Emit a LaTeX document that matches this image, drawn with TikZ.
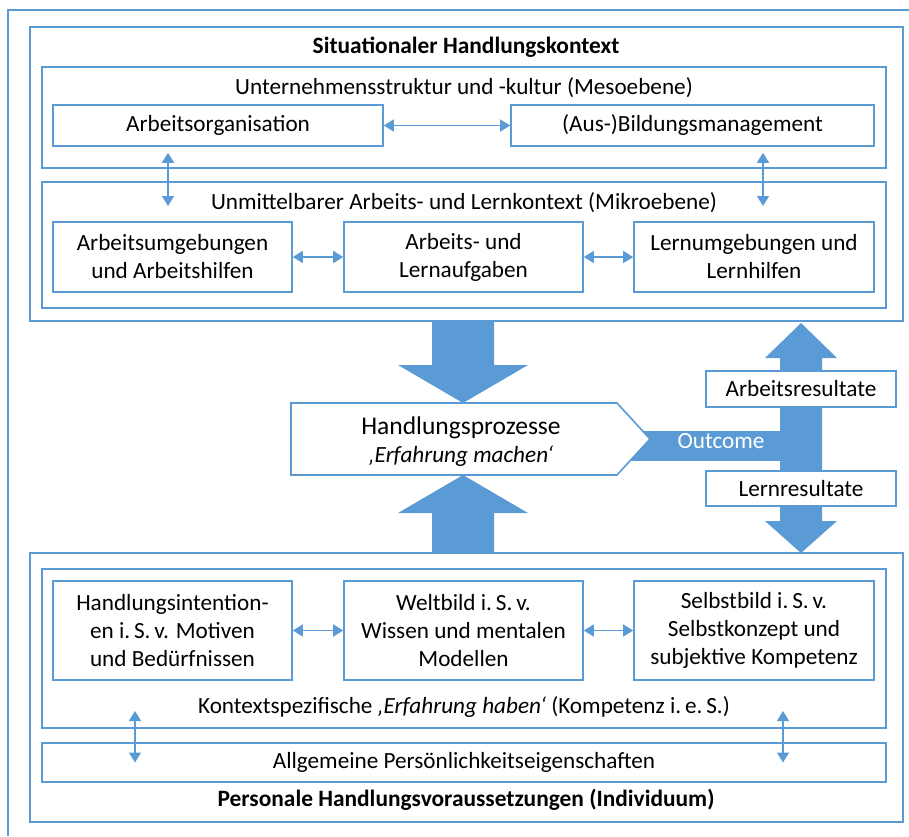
\documentclass[tikz,border=0pt]{standalone}
\usepackage{fontspec}
\setmainfont{Carlito}
\usetikzlibrary{arrows.meta,positioning,calc}
\definecolor{accent}{RGB}{91,155,213}
\tikzset{
  >={Triangle[length=10pt,width=12pt]},
  frame/.style={draw=accent,line width=1.6pt},
  box/.style={frame,fill=white,inner sep=0pt,align=center,
    font=\fontsize{23.2}{28}\selectfont},
  lbl/.style={font=\fontsize{23.2}{28}\selectfont,inner sep=0pt},
  ttl/.style={font=\fontsize{23.4}{28}\selectfont\bfseries,inner sep=0pt},
  link/.style={<->,accent,line width=1.5pt},
  bigarrow/.style={fill=accent,draw=none},
}

\begin{document}
\begin{tikzpicture}[x=1pt,y=-1pt]
  \useasboundingbox (0,0) rectangle (909,836);
  \draw[frame,line width=1.2pt] (8,836) -- (8,10) -- (909,10);

  % situational context
  \node[frame,minimum width=873pt,minimum height=294pt] (situ) at (466.5,174) {};
  \node[ttl] (situtitle) at (466,47) {Situationaler Handlungskontext};
  \node[frame,minimum width=844pt,minimum height=101pt] (meso) at (464,117.5) {};
  \node[lbl] (mesolbl) at (464,88) {Unternehmensstruktur und -kultur (Mesoebene)};
  \node[box,minimum width=330pt,minimum height=41pt] (orga) at (218,125.5) {Arbeitsorganisation};
  \node[box,minimum width=363pt,minimum height=41pt] (bima) at (692.5,125.5) {(Aus-)Bildungsmanagement};
  \node[frame,minimum width=844pt,minimum height=126pt] (mikro) at (464,245) {};
  \node[lbl] (mikrolbl) at (464,203) {Unmittelbarer Arbeits- und Lernkontext (Mikroebene)};
  \node[box,minimum width=239pt,minimum height=70pt] (umgeb) at (172.5,257) {Arbeitsumgebungen\\und Arbeitshilfen};
  \node[box,minimum width=239pt,minimum height=70pt] (aufg) at (463.5,257) {Arbeits- und\\Lernaufgaben};
  \node[box,minimum width=240pt,minimum height=70pt] (lernumg) at (754,257) {Lernumgebungen und\\Lernhilfen};

  \draw[link] (orga) -- (bima);
  \draw[link] (umgeb) -- (aufg);
  \draw[link] (aufg) -- (lernumg);
  \coordinate (m1) at (168,206);
  \coordinate (m2) at (763,206);
  \draw[link,shorten <=6pt] (orga.south -| m1) -- (m1);
  \draw[link,shorten <=6pt] (bima.south -| m2) -- (m2);

  % personal preconditions
  \node[frame,minimum width=873pt,minimum height=269pt] (personal) at (466.5,687.5) {};
  \node[ttl] (perstitle) at (466,800) {Personale Handlungsvoraussetzungen (Individuum)};
  \node[frame,minimum width=844pt,minimum height=159pt] (kontext) at (464,648.5) {};
  \node[lbl] (kontextlbl) at (464,707) {Kontextspezifische \textit{‚Erfahrung haben‘} (Kompetenz i.\,e.\,S.)};
  \node[box,minimum width=239pt,minimum height=99pt] (intent) at (172.5,630.5) {Handlungsintention-\\en i.\,S.\,v. Motiven\\und Bedürfnissen};
  \node[box,minimum width=239pt,minimum height=99pt] (weltbild) at (463.5,630.5) {Weltbild i.\,S.\,v.\\Wissen und mentalen\\Modellen};
  \node[box,minimum width=240pt,minimum height=99pt] (selbstbild) at (754,630.5) {Selbstbild i.\,S.\,v.\\Selbstkonzept und\\subjektive Kompetenz};
  \node[box,minimum width=844pt,minimum height=39pt] (allg) at (464,762.5) {Allgemeine Persönlichkeitseigenschaften};

  \draw[link] (intent) -- (weltbild);
  \draw[link] (weltbild) -- (selbstbild);
  \coordinate (k1) at (135,711);
  \coordinate (k2) at (783,711);
  \draw[link] (k1) -- (k1 |- allg.center);
  \draw[link] (k2) -- (k2 |- allg.center);

  % big arrows
  \fill[bigarrow] (432,321) -- (494,321) -- (494,365) -- (528,365) -- (463,403)
    -- (398,365) -- (432,365) -- cycle;
  \fill[bigarrow] (432,553) -- (494,553) -- (494,513) -- (528,513) -- (463,475)
    -- (398,513) -- (432,513) -- cycle;
  \fill[bigarrow] (600,431) rectangle (822,461);
  \fill[bigarrow] (780,521) -- (780,358) -- (765,358) -- (801,323) -- (837,358)
    -- (822,358) -- (822,521) -- (837,521) -- (801,553) -- (765,521) -- cycle;

  % process
  \draw[frame,fill=white] (291,403) -- (617,403) -- (650,439) -- (617,475) -- (291,475) -- cycle;
  \node[align=center,inner sep=0pt,font=\fontsize{25.5}{30}\selectfont] (prozess) at (461,442)
    {Handlungsprozesse\\[-2pt]{\fontsize{23.2}{28}\selectfont\textit{‚Erfahrung machen‘}}};
  \node[lbl,text=white] (outcome) at (721,441) {Outcome};
  \node[box,minimum width=190pt,minimum height=36pt] (arbres) at (801,389) {Arbeitsresultate};
  \node[box,minimum width=190pt,minimum height=35pt] (lernres) at (801,488.5) {Lernresultate};
\end{tikzpicture}
\end{document}
